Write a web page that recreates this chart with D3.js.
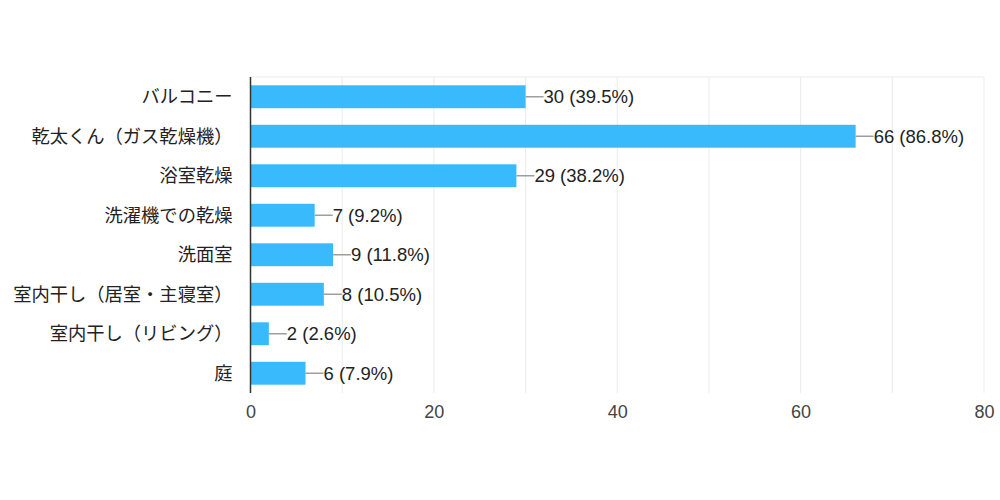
<!DOCTYPE html>
<html><head><meta charset="utf-8">
<script src="https://cdn.jsdelivr.net/npm/d3@7"></script>
<style>body{margin:0;background:#fff;} text{font-family:"Liberation Sans","Noto Sans CJK JP",sans-serif;}</style>
</head><body>
<svg id="c" width="1000" height="500"></svg>
<script>
const categories = ["バルコニー","乾太くん（ガス乾燥機）","浴室乾燥","洗濯機での乾燥","洗面室","室内干し（居室・主寝室）","室内干し（リビング）","庭"];
const counts = [30,66,29,7,9,8,2,6];
const percents = ["39.5%","86.8%","38.2%","9.2%","11.8%","10.5%","2.6%","7.9%"];
const tickValues = [0,20,40,60,80];
const gridValues = [10,20,30,40,50,60,70,80];

const svg = d3.select("#c");
const m = {left:250.5, right:984, top:77, bottom:393};
const x = d3.scaleLinear().domain([0,80]).range([m.left,m.right]);
const y = d3.scaleBand().domain(categories).range([m.top,m.bottom]).paddingInner(0.42).paddingOuter(0.21);

svg.append("line").attr("x1",m.left).attr("x2",m.right).attr("y1",m.top).attr("y2",m.top).attr("stroke","#ebebeb");
svg.selectAll(".grid").data(gridValues).join("line")
  .attr("x1",d=>x(d)).attr("x2",d=>x(d)).attr("y1",m.top).attr("y2",m.bottom)
  .attr("stroke","#ebebeb").attr("stroke-width",1);

svg.selectAll(".bar").data(counts).join("rect")
  .attr("x",x(0)).attr("y",(d,i)=>y(categories[i]))
  .attr("width",d=>x(d)-x(0)).attr("height",y.bandwidth())
  .attr("fill","#39bafd");

svg.selectAll(".lead").data(counts).join("line")
  .attr("x1",d=>x(d)).attr("x2",d=>x(d)+18)
  .attr("y1",(d,i)=>y(categories[i])+y.bandwidth()/2).attr("y2",(d,i)=>y(categories[i])+y.bandwidth()/2)
  .attr("stroke","#9e9e9e").attr("stroke-width",1.5);

svg.selectAll(".val").data(counts).join("text")
  .attr("x",d=>x(d)+18).attr("y",(d,i)=>y(categories[i])+y.bandwidth()/2)
  .attr("dy","0.36em").attr("font-size",18.5).attr("fill","#222")
  .text((d,i)=>`${d} (${percents[i]})`);

const ya = d3.axisLeft(y).tickSize(0).tickPadding(18);
const yg = svg.append("g").attr("transform",`translate(${m.left},0)`).call(ya);
yg.select(".domain").remove();
yg.selectAll("text").attr("font-size",18.3).attr("fill","#222").attr("dy","0.36em")
  .style("font-family",'"Noto Sans CJK JP",sans-serif');

svg.append("line").attr("x1",m.left).attr("x2",m.left).attr("y1",m.top).attr("y2",m.bottom)
  .attr("stroke","#333").attr("stroke-width",1.5);

const xa = d3.axisBottom(x).tickValues(tickValues).tickSize(0).tickPadding(12);
const xg = svg.append("g").attr("transform",`translate(0,${m.bottom})`).call(xa);
xg.select(".domain").remove();
xg.selectAll("text").attr("font-size",18).attr("fill","#444").attr("font-family",null);
</script>
</body></html>
